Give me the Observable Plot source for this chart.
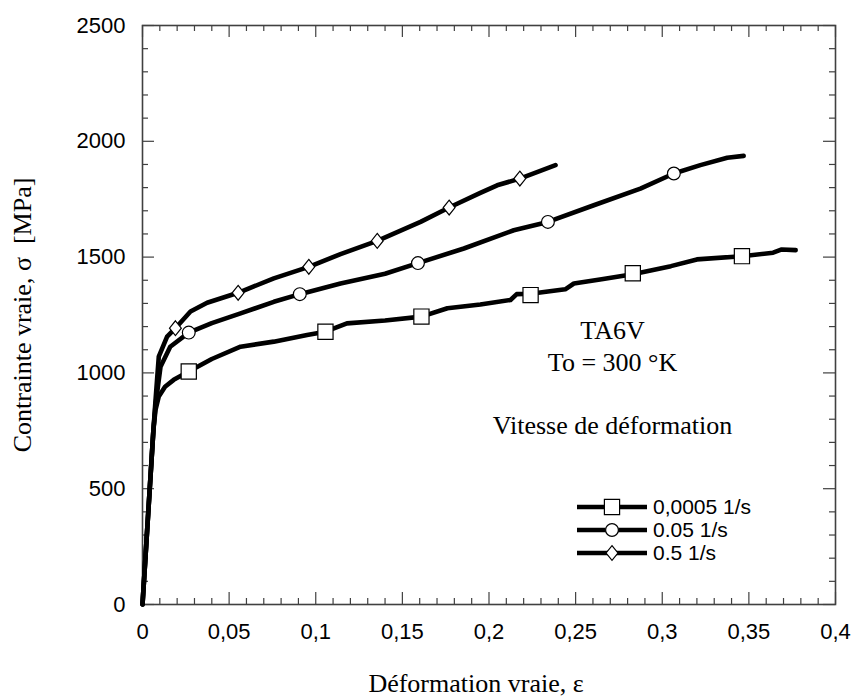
<!DOCTYPE html>
<html>
<head>
<meta charset="utf-8">
<script src="https://cdn.jsdelivr.net/npm/d3@7"></script>
<script src="https://cdn.jsdelivr.net/npm/@observablehq/plot@0.6"></script>
<style>
  body { margin: 0; background: #fff; }
  #chart { position: relative; width: 851px; height: 700px; }
  #chart svg { position: absolute; left: 0; top: 0; }
</style>
</head>
<body>
<div id="chart"></div>
<script>
// ---------- data ----------
const seriesNames = ["0,0005 1/s", "0.05 1/s", "0.5 1/s"];

const strainA = [0, 0.0063, 0.0075, 0.0094, 0.013, 0.018, 0.0267, 0.04, 0.0566, 0.0758, 0.095, 0.1056, 0.118, 0.14, 0.161, 0.176, 0.195, 0.2124, 0.216, 0.224, 0.244, 0.249, 0.265, 0.283, 0.305, 0.320, 0.346, 0.364, 0.369, 0.377];
const stressA = [0, 754, 840, 898, 940, 970, 1006, 1060, 1113, 1135, 1164, 1178, 1214, 1226, 1243, 1279, 1295, 1315, 1340, 1342, 1361, 1386, 1404, 1426, 1461, 1490, 1504, 1519, 1533, 1530];

const strainB = [0, 0.0063, 0.0075, 0.0104, 0.016, 0.0267, 0.04, 0.0566, 0.0758, 0.0908, 0.1143, 0.14, 0.159, 0.1855, 0.2143, 0.234, 0.2605, 0.2874, 0.3067, 0.322, 0.3375, 0.347];
const stressB = [0, 754, 860, 1027, 1113, 1174, 1215, 1257, 1307, 1340, 1386, 1428, 1474, 1537, 1616, 1652, 1724, 1796, 1861, 1897, 1929, 1937];

const strainC = [0, 0.0063, 0.0075, 0.0094, 0.0142, 0.019, 0.0277, 0.0373, 0.0552, 0.0758, 0.096, 0.1143, 0.1355, 0.1605, 0.177, 0.195, 0.2047, 0.2178, 0.2384];
const stressC = [0, 754, 880, 1070, 1157, 1193, 1265, 1303, 1346, 1408, 1458, 1513, 1570, 1652, 1714, 1777, 1810, 1839, 1897];

const markStrainA = [0.0267, 0.1056, 0.161, 0.224, 0.283, 0.346];
const markStressA = [1006, 1178, 1243, 1336, 1430, 1504];
const markStrainB = [0.0267, 0.0908, 0.159, 0.234, 0.3067];
const markStressB = [1174, 1340, 1474, 1652, 1861];
const markStrainC = [0.019, 0.0552, 0.096, 0.1355, 0.177, 0.2178];
const markStressC = [1193, 1346, 1458, 1570, 1714, 1839];

const xTickValues = [0, 0.05, 0.1, 0.15, 0.2, 0.25, 0.3, 0.35, 0.4];
const xTickLabels = ["0", "0,05", "0,1", "0,15", "0,2", "0,25", "0,3", "0,35", "0,4"];
const yTickValues = [0, 500, 1000, 1500, 2000, 2500];
const yTickLabels = ["0", "500", "1000", "1500", "2000", "2500"];

const xTitle = "Déformation vraie, ε";
const yTitle = "Contrainte vraie, σ  [MPa]";
const noteLines = ["TA6V", "To = 300 °K", "Vitesse de déformation"];

// ---------- build tables ----------
const lineRows = [
  ...strainA.map((s, i) => ({series: seriesNames[0], strain: s, stress: stressA[i]})),
  ...strainB.map((s, i) => ({series: seriesNames[1], strain: s, stress: stressB[i]})),
  ...strainC.map((s, i) => ({series: seriesNames[2], strain: s, stress: stressC[i]}))
];
const marksA = markStrainA.map((s, i) => ({strain: s, stress: markStressA[i]}));
const marksB = markStrainB.map((s, i) => ({strain: s, stress: markStressB[i]}));
const marksC = markStrainC.map((s, i) => ({strain: s, stress: markStressC[i]}));

// annotation placement (layout)
const notes = [
  {text: noteLines[0], x: 0.2713, y: 1183},
  {text: noteLines[1], x: 0.2713, y: 1045},
  {text: noteLines[2], x: 0.2713, y: 773}
];

// ---------- symbols ----------
const squareSym = {draw(ctx, size) { const r = Math.sqrt(size / Math.PI); ctx.moveTo(-r, -r); ctx.lineTo(r, -r); ctx.lineTo(r, r); ctx.lineTo(-r, r); ctx.closePath(); }};
const diamondSym = {draw(ctx, size) { const r = Math.sqrt(size / Math.PI); const w = r * 0.8; ctx.moveTo(0, -r); ctx.lineTo(w, 0); ctx.lineTo(0, r); ctx.lineTo(-w, 0); ctx.closePath(); }};
const circleSym = {draw(ctx, size) { const r = Math.sqrt(size / Math.PI); ctx.moveTo(r, 0); ctx.arc(0, 0, r, 0, 2 * Math.PI); }};

// ---------- layout ----------
const W = 851, H = 700, mL = 142, mR = 16, mT = 25, mB = 96;
const pw = W - mL - mR, ph = H - mT - mB;
const SANS = "'Liberation Sans', Arial, sans-serif";
const SERIF = "'Liberation Serif', 'Times New Roman', serif";
const tickColor = "#404040";

const minorX = d3.range(0, 41).filter(i => i % 5 !== 0).map(i => i / 100);
const minorY = d3.range(0, 26).filter(i => i % 5 !== 0).map(i => i * 100);
const majorLen = 12, minorLen = 6;

const plot = Plot.plot({
  width: W, height: H,
  marginLeft: mL, marginRight: mR, marginTop: mT, marginBottom: mB,
  style: {fontFamily: SANS, background: "white", overflow: "visible"},
  x: {domain: [0, 0.4]},
  y: {domain: [0, 2500]},
  marks: [
    // inside ticks on all four sides
    Plot.tickX(minorX, {x: d => d, insetTop: ph - minorLen, stroke: tickColor, strokeWidth: 1.2}),
    Plot.tickX(xTickValues, {x: d => d, insetTop: ph - majorLen, stroke: tickColor, strokeWidth: 1.2}),
    Plot.tickX(minorX, {x: d => d, insetBottom: ph - minorLen, stroke: tickColor, strokeWidth: 1.2}),
    Plot.tickX(xTickValues, {x: d => d, insetBottom: ph - majorLen, stroke: tickColor, strokeWidth: 1.2}),
    Plot.tickY(minorY, {y: d => d, insetRight: pw - minorLen, stroke: tickColor, strokeWidth: 1.2}),
    Plot.tickY(yTickValues, {y: d => d, insetRight: pw - majorLen, stroke: tickColor, strokeWidth: 1.2}),
    Plot.tickY(minorY, {y: d => d, insetLeft: pw - minorLen, stroke: tickColor, strokeWidth: 1.2}),
    Plot.tickY(yTickValues, {y: d => d, insetLeft: pw - majorLen, stroke: tickColor, strokeWidth: 1.2}),
    Plot.frame({stroke: tickColor, strokeWidth: 1.6}),
    Plot.axisX({ticks: xTickValues, tickSize: 0, tickPadding: 19, label: null,
      tickFormat: d => xTickLabels[xTickValues.indexOf(d)], fontSize: 22, fontFamily: SANS, fill: "black"}),
    Plot.axisY({ticks: yTickValues, tickSize: 0, tickPadding: 17, label: null,
      tickFormat: d => yTickLabels[yTickValues.indexOf(d)], fontSize: 22, fontFamily: SANS, fill: "black"}),
    // curves
    Plot.line(lineRows, {x: "strain", y: "stress", z: "series", stroke: "black", strokeWidth: 4.6, strokeLinejoin: "round"}),
    Plot.dot(marksA, {x: "strain", y: "stress", r: 7.6, symbol: squareSym, fill: "white", stroke: "black", strokeWidth: 1.2}),
    Plot.dot(marksB, {x: "strain", y: "stress", r: 6.4, symbol: circleSym, fill: "white", stroke: "black", strokeWidth: 1.2}),
    Plot.dot(marksC, {x: "strain", y: "stress", r: 7.4, symbol: diamondSym, fill: "white", stroke: "black", strokeWidth: 1.2}),
    // annotations
    Plot.text(notes, {x: "x", y: "y", text: "text", fontSize: 26, fontFamily: SERIF, fill: "black"}),
    // axis titles
    Plot.text([xTitle], {text: d => d, frameAnchor: "bottom", dx: -13, dy: 87, textAnchor: "middle", fontSize: 26, fontFamily: SERIF, fill: "black"}),
    Plot.text([yTitle], {text: d => d, frameAnchor: "left", dx: -120, rotate: -90, textAnchor: "middle", fontSize: 26, fontFamily: SERIF, fill: "black"})
  ]
});

const chart = document.getElementById("chart");
chart.appendChild(plot);

// ---------- legend overlay ----------
const legendSymbols = [squareSym, circleSym, diamondSym];
const legendR = [7.6, 6.4, 7.4];
const legend = d3.select(chart).append("svg")
  .attr("width", W).attr("height", H)
  .style("pointer-events", "none");
const lx0 = 577, lx1 = 647, ly0 = 507, lstep = 23;
seriesNames.forEach((name, i) => {
  const y = ly0 + i * lstep;
  const g = legend.append("g");
  g.append("line").attr("x1", lx0).attr("x2", lx1).attr("y1", y).attr("y2", y)
    .attr("stroke", "black").attr("stroke-width", 4.6);
  g.append("path")
    .attr("d", d3.symbol(legendSymbols[i], Math.PI * legendR[i] * legendR[i])())
    .attr("transform", `translate(${(lx0 + lx1) / 2},${y})`)
    .attr("fill", "white").attr("stroke", "black").attr("stroke-width", 1.2);
  g.append("text").attr("x", lx1 + 6).attr("y", y).attr("dy", "0.35em")
    .attr("font-family", SANS).attr("font-size", 21).attr("fill", "black")
    .text(name);
});
</script>
</body>
</html>
